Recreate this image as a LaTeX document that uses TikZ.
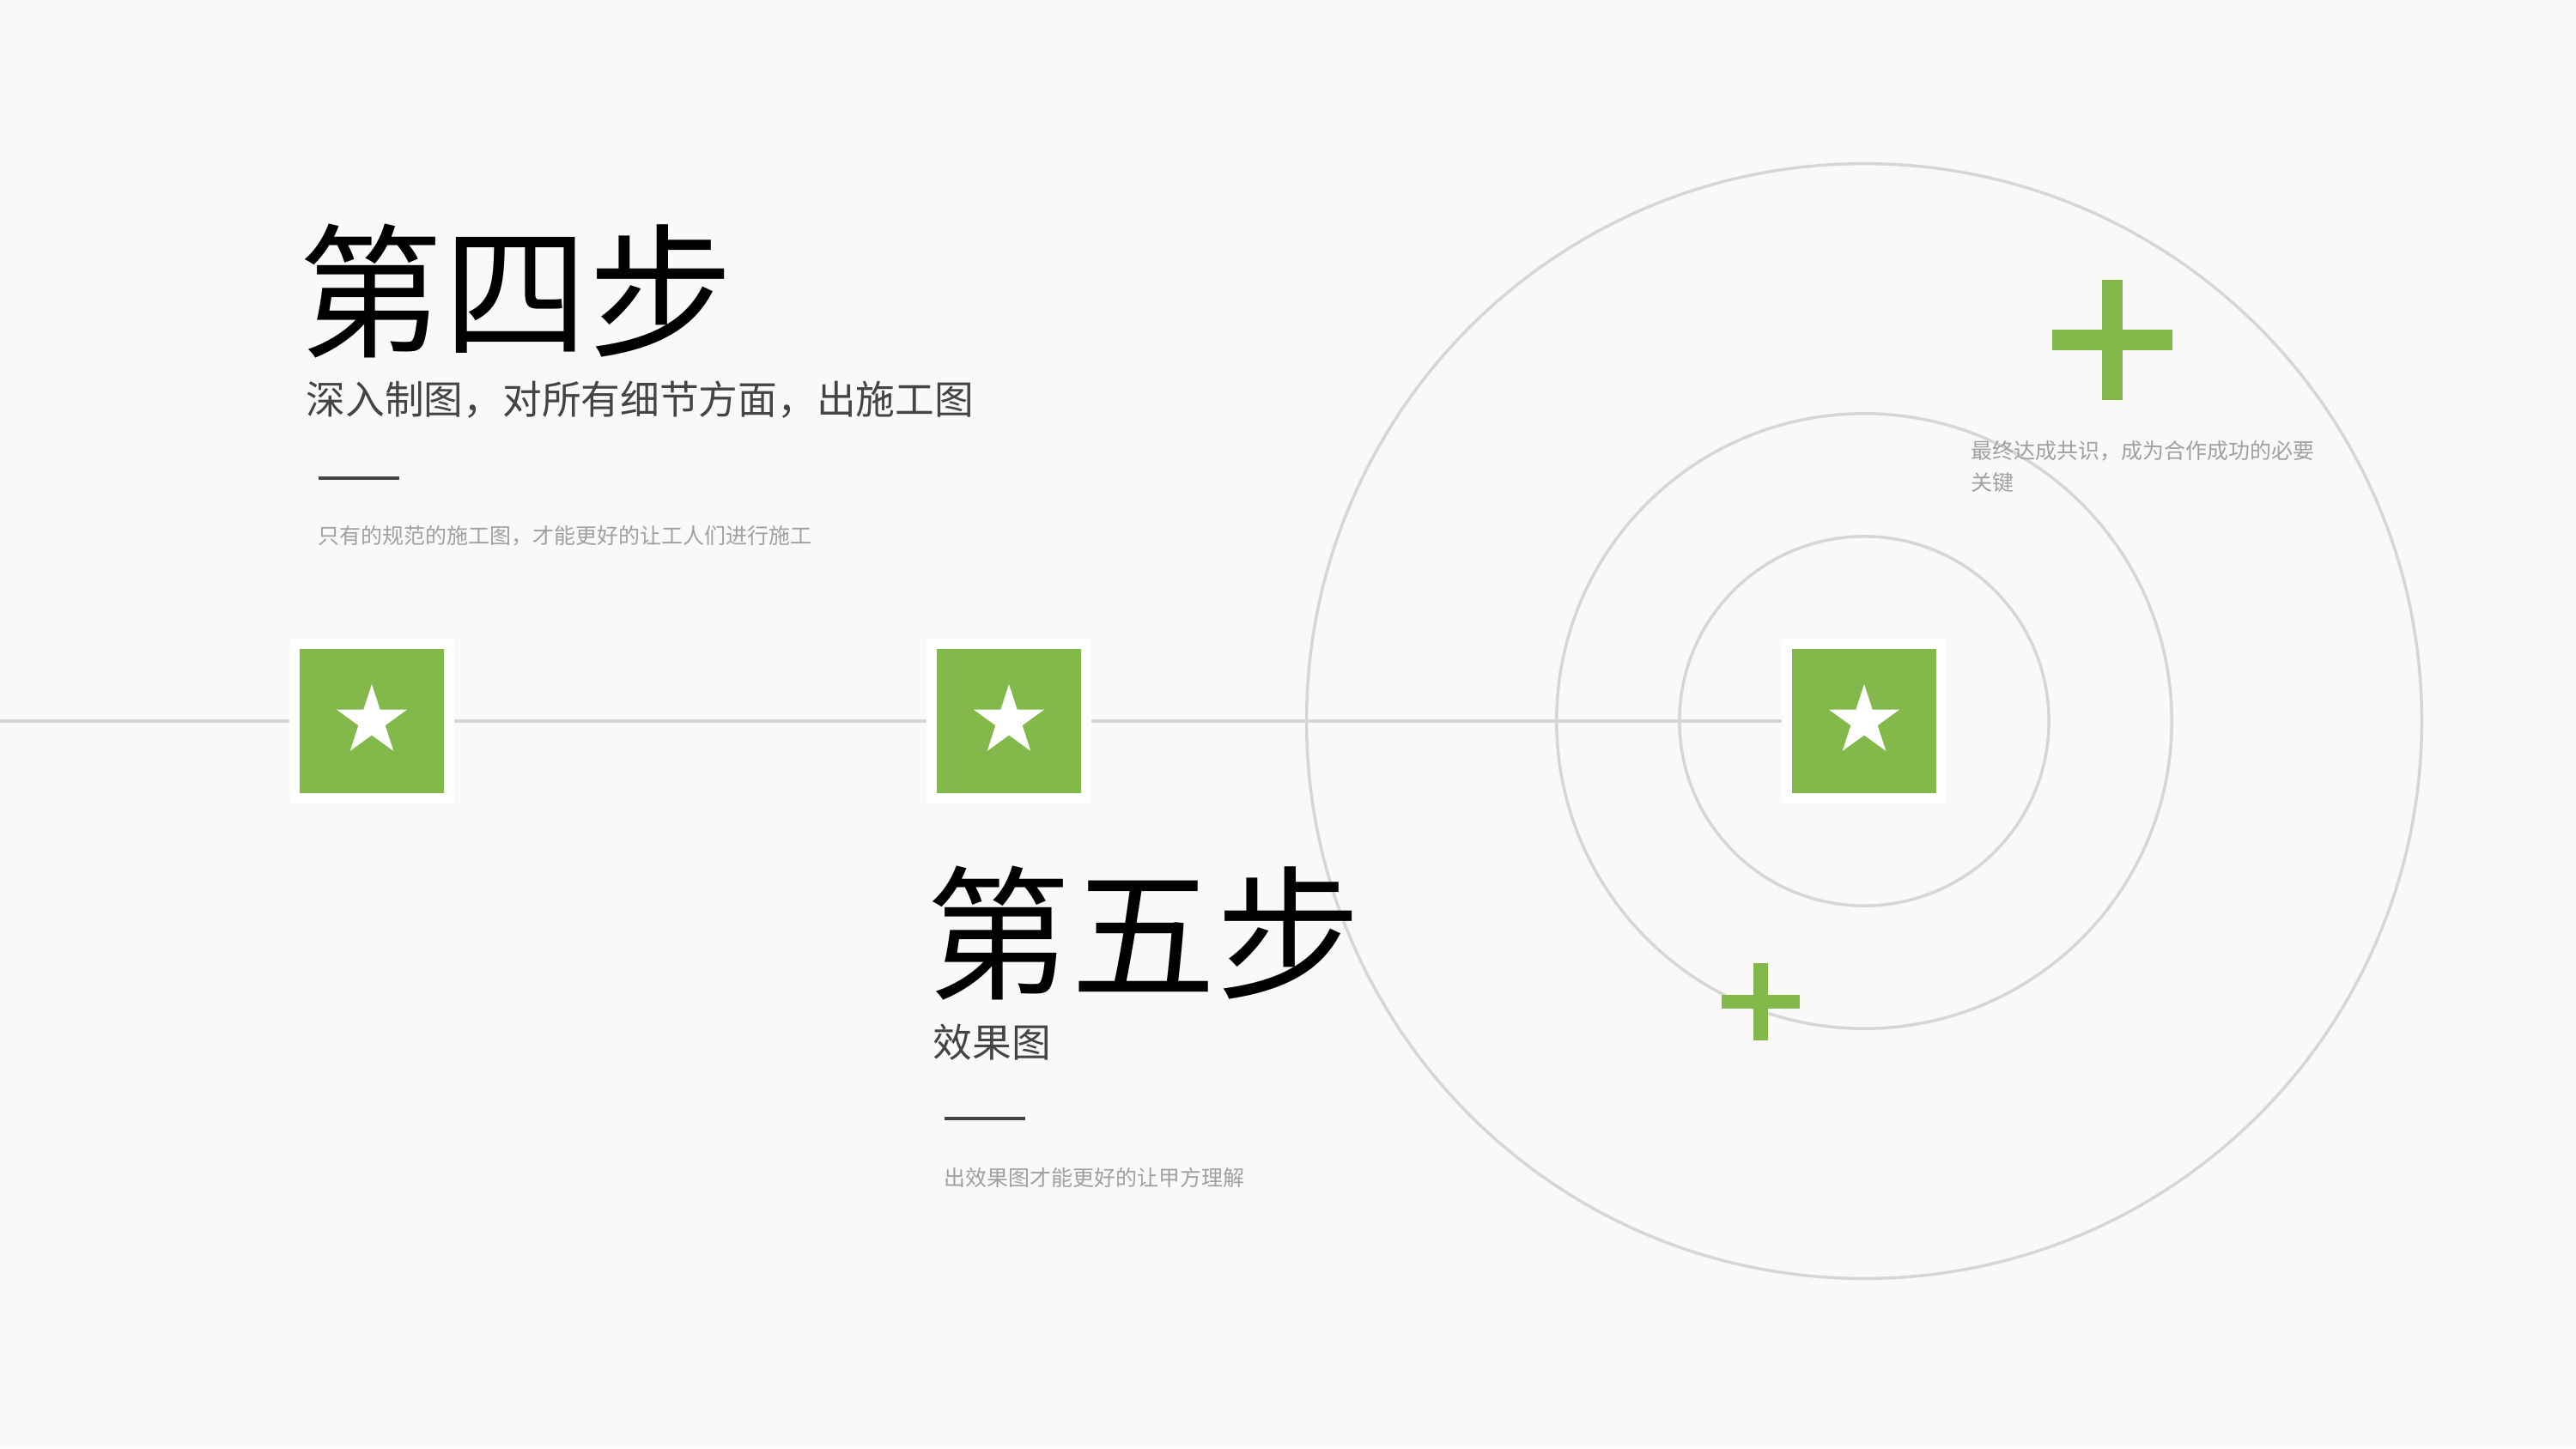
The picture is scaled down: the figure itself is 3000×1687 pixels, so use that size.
\documentclass[tikz,border=0pt]{standalone}
\usepackage{fontspec}
\setmainfont{Noto Sans CJK SC}
\usetikzlibrary{shapes.geometric}
\definecolor{bgc}{HTML}{FAF9F7}
\definecolor{leaf}{HTML}{83B84A}
\definecolor{ring}{HTML}{D6D6D6}
\definecolor{subc}{HTML}{444444}
\definecolor{smallc}{HTML}{A0A0A0}
\tikzset{
  starbox/.style={rectangle, fill=leaf, draw=white, line width=0.12cm, minimum size=1.80cm, inner sep=0pt, outer sep=0.06cm},
  starmark/.style={star, star points=5, star point ratio=2.618, fill=white, draw=none, minimum size=0.86cm, inner sep=0pt},
  ringline/.style={draw=ring, line width=0.035cm},
  hline/.style={draw=ring, line width=0.04cm},
  dashline/.style={draw=subc, line width=0.04cm},
  bigtitle/.style={anchor=base west, inner sep=0pt, font=\fontsize{48}{52}\selectfont, text=black},
  subtitle/.style={anchor=base west, inner sep=0pt, font=\fontsize{13}{15}\selectfont, text=subc},
  smalltext/.style={anchor=base west, inner sep=0pt, font=\fontsize{7.1}{9}\selectfont, text=smallc},
}
\begin{document}
\begin{tikzpicture}[x=0.01cm, y=-0.01cm]
\useasboundingbox (0,0) rectangle (3000,1687);
\fill[bgc] (0,0) rectangle (3000,1687);

% rings
\coordinate (c) at (2171,840);
\draw[ringline] (c) circle (2.15cm);
\draw[ringline] (c) circle (3.58cm);
\draw[ringline] (c) circle (6.49cm);

% star boxes
\node[starbox] (b1) at (433,840) {};
\node[starbox] (b2) at (1175,840) {};
\node[starbox] (b3) at (2171,840) {};
\node[starmark] (s1) at (433,840) {};
\node[starmark] (s2) at (1175,840) {};
\node[starmark] (s3) at (2171,840) {};

% timeline
\coordinate (lstart) at (0,840);
\draw[hline] (lstart) -- (b1.west);
\draw[hline] (b1.east) -- (b2.west);
\draw[hline] (b2.east) -- (b3.west);

% plus signs
\fill[leaf] (2448,326) rectangle (2472,466);
\fill[leaf] (2390,384) rectangle (2530,408);
\fill[leaf] (2042,1122) rectangle (2059,1212);
\fill[leaf] (2005,1159) rectangle (2096,1175);

% step 4 texts
\node[bigtitle] (t4) at (347,403) {第四步};
\node[subtitle] (st4) at (356,482) {深入制图，对所有细节方面，出施工图};
\coordinate (d4a) at (371,557);
\coordinate (d4b) at (465,557);
\draw[dashline] (d4a) -- (d4b);
\node[smalltext] (p4) at (370,633) {只有的规范的施工图，才能更好的让工人们进行施工};

% step 5 texts
\node[bigtitle] (t5) at (1078,1151) {第五步};
\node[subtitle] (st5) at (1086,1231) {效果图};
\coordinate (d5a) at (1100,1303);
\coordinate (d5b) at (1194,1303);
\draw[dashline] (d5a) -- (d5b);
\node[smalltext] (p5) at (1099,1381) {出效果图才能更好的让甲方理解};

% right text
\node[smalltext] (r1) at (2295,534) {最终达成共识，成为合作成功的必要};
\node[smalltext] (r2) at (2295,571) {关键};
\end{tikzpicture}
\end{document}
